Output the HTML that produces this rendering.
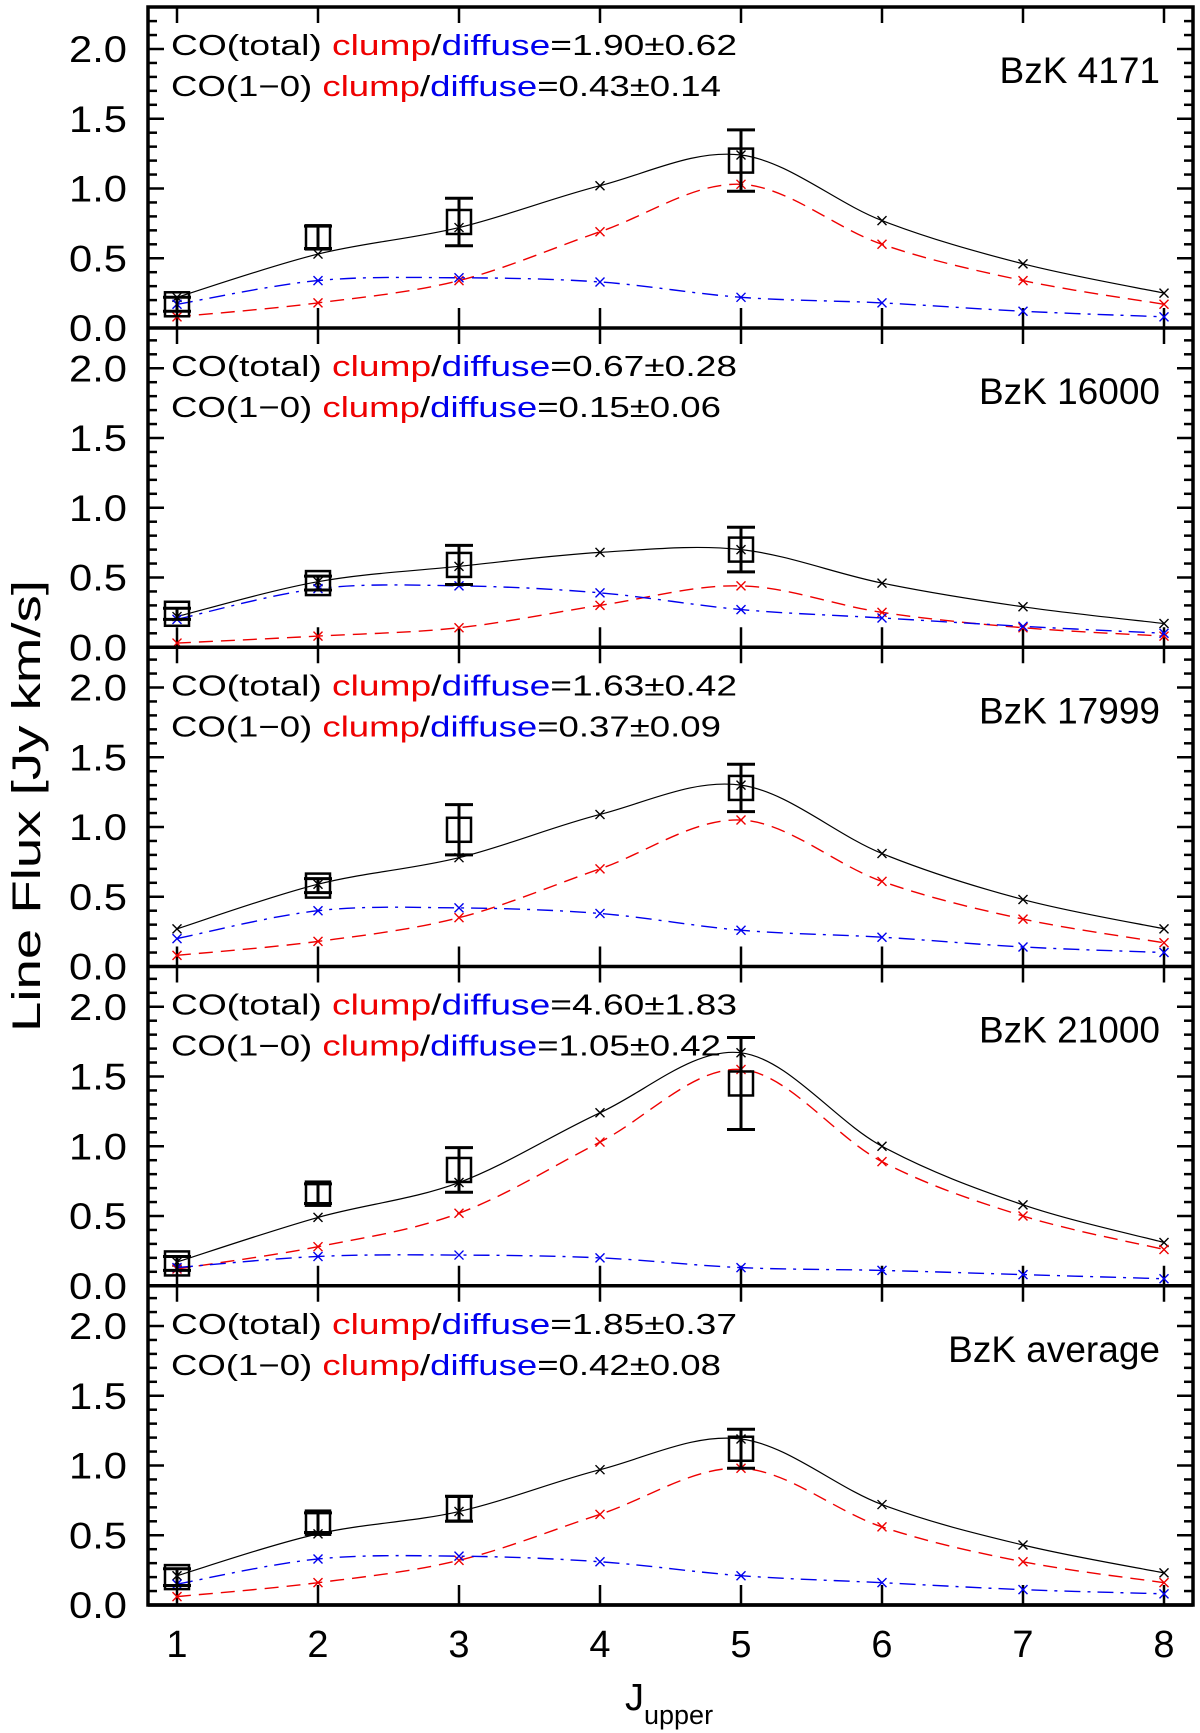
<!DOCTYPE html>
<html><head><meta charset="utf-8"><title>CO SLED panels</title>
<style>
html,body{margin:0;padding:0;background:#fff;}
svg{display:block;}
text{font-family:"Liberation Sans",sans-serif;}
</style></head>
<body>
<svg id="chart" width="1200" height="1733" viewBox="0 0 1200 1733" xmlns="http://www.w3.org/2000/svg"></svg>
<script>
const jValues = [1,2,3,4,5,6,7,8];
const panelNames = ["BzK 4171","BzK 16000","BzK 17999","BzK 21000","BzK average"];
const ratioTotal = ["1.90±0.62","0.67±0.28","1.63±0.42","4.60±1.83","1.85±0.37"];
const ratio10 = ["0.43±0.14","0.15±0.06","0.37±0.09","1.05±0.42","0.42±0.08"];
const totalSeries = [
 [0.22,0.53,0.72,1.02,1.24,0.77,0.46,0.25],
 [0.22,0.47,0.58,0.68,0.70,0.46,0.29,0.17],
 [0.27,0.59,0.78,1.09,1.30,0.81,0.48,0.27],
 [0.17,0.49,0.74,1.24,1.67,1.00,0.58,0.31],
 [0.21,0.51,0.67,0.97,1.19,0.72,0.43,0.23]];
const clumpSeries = [
 [0.08,0.18,0.34,0.69,1.03,0.60,0.34,0.17],
 [0.03,0.08,0.14,0.30,0.44,0.25,0.14,0.08],
 [0.08,0.18,0.35,0.70,1.05,0.61,0.34,0.17],
 [0.12,0.28,0.52,1.03,1.55,0.89,0.50,0.26],
 [0.06,0.16,0.32,0.65,0.98,0.56,0.31,0.16]];
const diffuseSeries = [
 [0.17,0.34,0.36,0.33,0.22,0.18,0.12,0.08],
 [0.20,0.42,0.44,0.39,0.27,0.21,0.15,0.10],
 [0.20,0.40,0.42,0.38,0.26,0.21,0.14,0.10],
 [0.13,0.21,0.22,0.20,0.13,0.11,0.08,0.05],
 [0.15,0.33,0.35,0.31,0.21,0.16,0.11,0.08]];
const obsJ = [[1,2,3,5],[1,2,3,5],[2,3,5],[1,2,3,5],[1,2,3,5]];
const obsFlux = [[0.17,0.65,0.76,1.20],[0.24,0.46,0.59,0.70],[0.58,0.98,1.28],[0.16,0.66,0.83,1.45],[0.20,0.59,0.69,1.12]];
const obsErr = [[0.05,0.08,0.17,0.22],[0.04,0.05,0.14,0.16],[0.05,0.18,0.17],[0.05,0.07,0.16,0.33],[0.06,0.07,0.09,0.14]];
const yTickLabels = ["0.0","0.5","1.0","1.5","2.0"];

const NS="http://www.w3.org/2000/svg";
const svg=document.getElementById('chart');
const L=148,R=1193,TOP=7,PH=319.25,UNIT=139.5;
function xs(j){return 177+(j-1)*141;}
function zeroY(p){return 328+p*PH;}
function ys(p,v){return zeroY(p)-v*UNIT;}
function mk(tag,attrs,parent){const e=document.createElementNS(NS,tag);for(const k in attrs)e.setAttribute(k,attrs[k]);(parent||svg).appendChild(e);return e;}
function smooth(pts){
  let d=`M${pts[0][0]},${pts[0][1]}`;
  for(let i=0;i<pts.length-1;i++){
    const p0=pts[Math.max(i-1,0)],p1=pts[i],p2=pts[i+1],p3=pts[Math.min(i+2,pts.length-1)];
    const c1=[p1[0]+(p2[0]-p0[0])/6,p1[1]+(p2[1]-p0[1])/6];
    const c2=[p2[0]-(p3[0]-p1[0])/6,p2[1]-(p3[1]-p1[1])/6];
    d+=` C${c1[0]},${c1[1]} ${c2[0]},${c2[1]} ${p2[0]},${p2[1]}`;
  }
  return d;
}
function cross(g,x,y,col){
  const s=4.5;
  mk('path',{d:`M${x-s},${y-s}L${x+s},${y+s}M${x-s},${y+s}L${x+s},${y-s}`,stroke:col,'stroke-width':1.4,fill:'none'},g);
}

for(let p=0;p<5;p++){
  const g=mk('g',{});
  
  
  const z=zeroY(p), top=p===0?TOP:zeroY(p-1);
  for(let k=0;k<=23;k++){
    const v=k*0.1, y=ys(p,v); if(y<top+2) continue;
    const len=(k%5===0)?16:9;
    mk('line',{x1:L,y1:y,x2:L+len,y2:y,stroke:'#000','stroke-width':2.5},g);
    mk('line',{x1:R,y1:y,x2:R-len,y2:y,stroke:'#000','stroke-width':2.5},g);
  }
  yTickLabels.forEach((lab,i)=>{
    const t=mk('text',{x:127,y:ys(p,i*0.5)+13,'font-size':37,'text-anchor':'end',textLength:58,lengthAdjust:'spacingAndGlyphs'},g);
    t.textContent=lab;
    
    
  });
  jValues.forEach(j=>{
    mk('line',{x1:xs(j),y1:z,x2:xs(j),y2:z-20,stroke:'#000','stroke-width':2.5},g);
    mk('line',{x1:xs(j),y1:top,x2:xs(j),y2:top+16,stroke:'#000','stroke-width':2.5},g);
  });
  const series=[[totalSeries[p],'#000','none',1.2,'total-curve'],[clumpSeries[p],'#e00','14 8',1.4,'clump-curve'],[diffuseSeries[p],'#00e','16 7 3 7',1.4,'diffuse-curve']];
  series.forEach(([vals,col,dash,w,name])=>{
    const pts=vals.map((v,i)=>[xs(jValues[i]),ys(p,v)]);
    const path=mk('path',{d:smooth(pts),stroke:col,'stroke-width':w,fill:'none','stroke-dasharray':dash},g);
    
    
    pts.forEach(pt=>cross(g,pt[0],pt[1],col));
  });
  obsJ[p].forEach((j,i)=>{
    const x=xs(j), y=ys(p,obsFlux[p][i]), e=obsErr[p][i]*UNIT;
    const og=mk('g',{},g);
    
    
    mk('rect',{x:x-12,y:y-12,width:24,height:24,fill:'none',stroke:'#000','stroke-width':2.5},og);
    mk('path',{d:`M${x},${y-e}L${x},${y+e}M${x-14},${y-e}L${x+14},${y-e}M${x-14},${y+e}L${x+14},${y+e}`,stroke:'#000','stroke-width':3,fill:'none'},og);
  });
  const t1=mk('text',{x:171,y:top+48,'font-size':29,textLength:566,lengthAdjust:'spacingAndGlyphs'},g);
  t1.innerHTML='CO(total) <tspan fill="#e00">clump</tspan>/<tspan fill="#00e">diffuse</tspan>='+ratioTotal[p];
  
  
  const t2=mk('text',{x:171,y:top+89,'font-size':29,textLength:550,lengthAdjust:'spacingAndGlyphs'},g);
  t2.innerHTML='CO(1−0) <tspan fill="#e00">clump</tspan>/<tspan fill="#00e">diffuse</tspan>='+ratio10[p];
  
  
  const nm=mk('text',{x:1160,y:top+76,'font-size':37,'text-anchor':'end'},g);
  nm.textContent=panelNames[p];
  
  
  mk('line',{x1:L,y1:z,x2:R,y2:z,stroke:'#000','stroke-width':3.5},g);
}
const fr=mk('rect',{x:L,y:TOP,width:R-L,height:zeroY(4)-TOP,fill:'none',stroke:'#000','stroke-width':3.5});


jValues.forEach(j=>{
  const t=mk('text',{x:xs(j),y:1657,'font-size':38,'text-anchor':'middle'});
  t.textContent=j;
  
  
});
const xt=mk('text',{x:625,y:1710,'font-size':38});
xt.innerHTML='J<tspan font-size="27" dy="14">upper</tspan>';


const yt=mk('text',{x:0,y:0,'font-size':40,'text-anchor':'middle',transform:'translate(40,806) rotate(-90)',textLength:452,lengthAdjust:'spacingAndGlyphs'});
yt.textContent='Line Flux [Jy km/s]';


</script>
</body></html>
